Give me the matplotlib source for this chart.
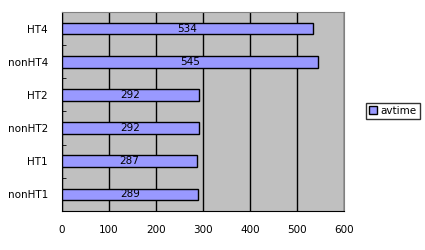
import matplotlib.pyplot as plt
import numpy as np

categories = ['nonHT1', 'HT1', 'nonHT2', 'HT2', 'nonHT4', 'HT4']
avtime = [289, 287, 292, 292, 545, 534]
x_ticks = [0, 100, 200, 300, 400, 500, 600]

fig = plt.figure(figsize=(4.25, 2.5), dpi=100)
ax = fig.add_axes([62 / 425, 39 / 250, 282 / 425, 199 / 250])
ax.set_facecolor('#C0C0C0')

y = np.arange(len(categories))
bars = ax.barh(y, avtime, height=0.35, color='#9999FF', edgecolor='black',
               linewidth=1, label='avtime', zorder=3)

for yi, v in zip(y, avtime):
    ax.text(v / 2, yi, str(v), ha='center', va='center', fontsize=7.5, zorder=4)

ax.set_xlim(0, 600)
ax.set_ylim(-0.5, len(categories) - 0.5)
ax.set_xticks(x_ticks)
ax.set_xticklabels([str(t) for t in x_ticks], fontsize=7.5)
ax.tick_params(axis='x', length=0, pad=10)
ax.set_yticks(y)
ax.set_yticklabels(categories, fontsize=7.5)
ax.tick_params(axis='y', length=0, pad=10)
ax.set_yticks(np.arange(-0.5, len(categories) - 0.5), minor=True)
ax.tick_params(axis='y', which='minor', direction='in', length=3, color='black')

ax.grid(axis='x', color='black', linewidth=1, zorder=1)
ax.set_axisbelow(True)
for s in ['top', 'right']:
    ax.spines[s].set_color('#808080')
for s in ['left', 'bottom']:
    ax.spines[s].set_color('black')

leg = ax.legend(loc='center left', bbox_to_anchor=(366 / 425, 139 / 250),
                bbox_transform=fig.transFigure, fontsize=7.5, frameon=True,
                fancybox=False, edgecolor='black', handlelength=0.8,
                handleheight=0.8, handletextpad=0.3, borderpad=0.3,
                borderaxespad=0)
leg.get_frame().set_linewidth(1)

fig.savefig('out.png', dpi=100)
